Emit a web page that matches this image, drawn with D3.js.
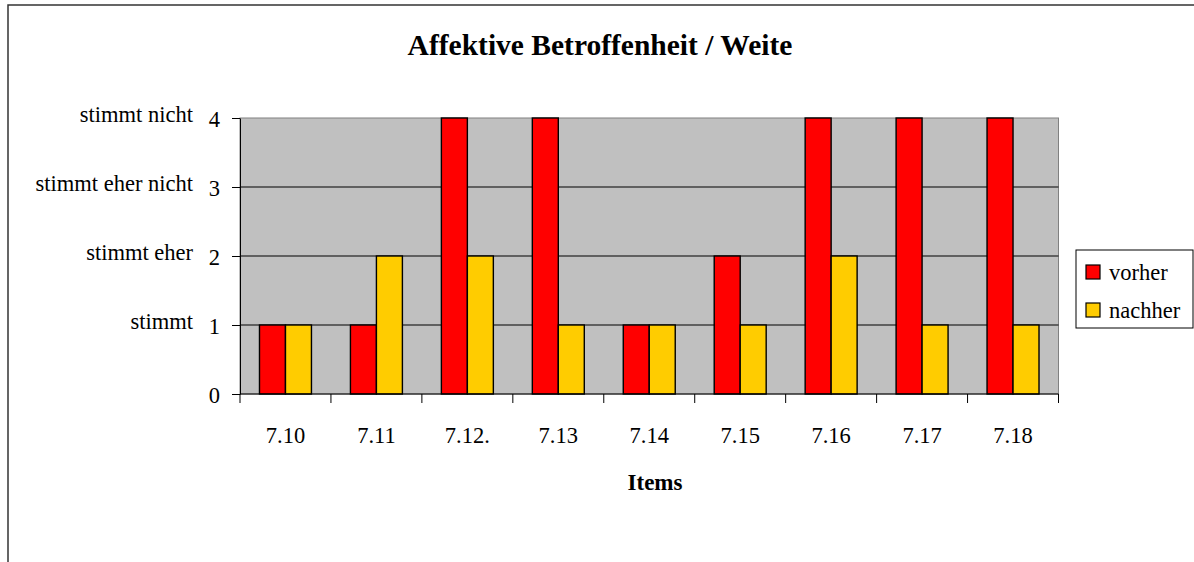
<!DOCTYPE html>
<html>
<head>
<meta charset="utf-8">
<script src="https://cdn.jsdelivr.net/npm/d3@7"></script>
<style>
  html, body { margin: 0; padding: 0; background: #fff; }
  svg { display: block; }
  text { font-family: "Liberation Serif", "Times New Roman", serif; fill: #000; }
</style>
</head>
<body>
<svg id="chart" width="1194" height="562"></svg>
<script>
// Items and ratings (0 = none, 1 = stimmt ... 4 = stimmt nicht)
const categories = ["7.10", "7.11", "7.12.", "7.13", "7.14", "7.15", "7.16", "7.17", "7.18"];
const seriesNames = ["vorher", "nachher"];
const vorher  = [1, 1, 4, 4, 1, 2, 4, 4, 4];
const nachher = [1, 2, 2, 1, 1, 1, 2, 1, 1];
const yTicks = [0, 1, 2, 3, 4];
const yCaptions = [
  { value: 1, label: "stimmt" },
  { value: 2, label: "stimmt eher" },
  { value: 3, label: "stimmt eher nicht" },
  { value: 4, label: "stimmt nicht" }
];
const colors = { vorher: "#ff0000", nachher: "#ffcc00" };

const svg = d3.select("#chart");

// outer chart frame (runs past the right and bottom edges)
svg.append("rect")
  .attr("x", 8).attr("y", 5)
  .attr("width", 1300).attr("height", 700)
  .attr("fill", "#fff")
  .attr("stroke", "#333").attr("stroke-width", 1.5);

const plot = { left: 240, right: 1058.5, top: 118, bottom: 394 };

const x = d3.scaleBand().domain(categories).range([plot.left, plot.right]).paddingInner(0).paddingOuter(0);
const xs = d3.scaleBand().domain(seriesNames).range([0, x.bandwidth()]).paddingInner(0).paddingOuter(0.75);
const y = d3.scaleLinear().domain([0, 4]).range([plot.bottom, plot.top]);

// plot background
svg.append("rect")
  .attr("x", plot.left).attr("y", plot.top)
  .attr("width", plot.right - plot.left).attr("height", plot.bottom - plot.top)
  .attr("fill", "#c0c0c0").attr("stroke", "#808080").attr("stroke-width", 1);

// horizontal gridlines
svg.append("g").selectAll("line")
  .data(yTicks.filter(v => v > 0 && v < 4))
  .join("line")
  .attr("x1", plot.left).attr("x2", plot.right)
  .attr("y1", d => y(d)).attr("y2", d => y(d))
  .attr("stroke", "#000").attr("stroke-width", 1);

// bars
const rows = categories.map((c, i) => ({ cat: c, vorher: vorher[i], nachher: nachher[i] }));
const groups = svg.append("g").selectAll("g")
  .data(rows).join("g")
  .attr("transform", d => `translate(${x(d.cat)},0)`);
groups.selectAll("rect")
  .data(d => seriesNames.map(s => ({ s, v: d[s] })))
  .join("rect")
  .attr("x", d => xs(d.s))
  .attr("width", xs.bandwidth())
  .attr("y", d => y(d.v))
  .attr("height", d => y(0) - y(d.v))
  .attr("fill", d => colors[d.s])
  .attr("stroke", "#000").attr("stroke-width", 1.4);

// y axis with numeric ticks
const yAxis = svg.append("g")
  .attr("transform", `translate(${plot.left},0)`)
  .call(d3.axisLeft(y).tickValues(yTicks).tickFormat(d3.format("d")).tickSize(8).tickSizeOuter(0).tickPadding(12));
yAxis.select(".domain").attr("stroke", "#000");
yAxis.selectAll(".tick line").attr("stroke", "#000");
yAxis.selectAll(".tick text")
  .attr("font-size", 22.5)
  .attr("font-family", "Liberation Serif, Times New Roman, serif")
  .attr("dy", "0.38em");

// verbal captions beside the numbers
svg.append("g").selectAll("text")
  .data(yCaptions).join("text")
  .attr("x", 193)
  .attr("y", d => y(d.value) + 4)
  .attr("text-anchor", "end")
  .attr("font-size", 22.5)
  .text(d => d.label);

// x axis line and category boundary ticks
svg.append("line")
  .attr("x1", plot.left).attr("x2", plot.right)
  .attr("y1", plot.bottom).attr("y2", plot.bottom)
  .attr("stroke", "#000");
const bounds = categories.map(c => x(c)).concat([x.range()[1]]);
svg.append("g").selectAll("line")
  .data(bounds).join("line")
  .attr("x1", d => d).attr("x2", d => d)
  .attr("y1", plot.bottom).attr("y2", plot.bottom + 9)
  .attr("stroke", "#000");
svg.append("g").selectAll("text")
  .data(categories).join("text")
  .attr("x", d => x(d) + x.bandwidth() / 2)
  .attr("y", 443)
  .attr("text-anchor", "middle")
  .attr("font-size", 22.5)
  .text(d => d);

// titles
svg.append("text")
  .attr("x", 600).attr("y", 55)
  .attr("text-anchor", "middle")
  .attr("font-size", 29.5).attr("font-weight", "bold")
  .text("Affektive Betroffenheit / Weite");
svg.append("text")
  .attr("x", 655).attr("y", 490)
  .attr("text-anchor", "middle")
  .attr("font-size", 23).attr("font-weight", "bold")
  .text("Items");

// legend
const legend = svg.append("g");
legend.append("rect")
  .attr("x", 1076).attr("y", 250)
  .attr("width", 117).attr("height", 78)
  .attr("fill", "#fff").attr("stroke", "#000").attr("stroke-width", 1);
const li = legend.selectAll("g.item")
  .data(seriesNames).join("g")
  .attr("class", "item")
  .attr("transform", (d, i) => `translate(1086,${265 + i * 38})`);
li.append("rect")
  .attr("width", 14).attr("height", 14)
  .attr("fill", d => colors[d])
  .attr("stroke", "#000").attr("stroke-width", 1.2);
li.append("text")
  .attr("x", 23).attr("y", 15)
  .attr("font-size", 22.5)
  .text(d => d);
</script>
</body>
</html>
